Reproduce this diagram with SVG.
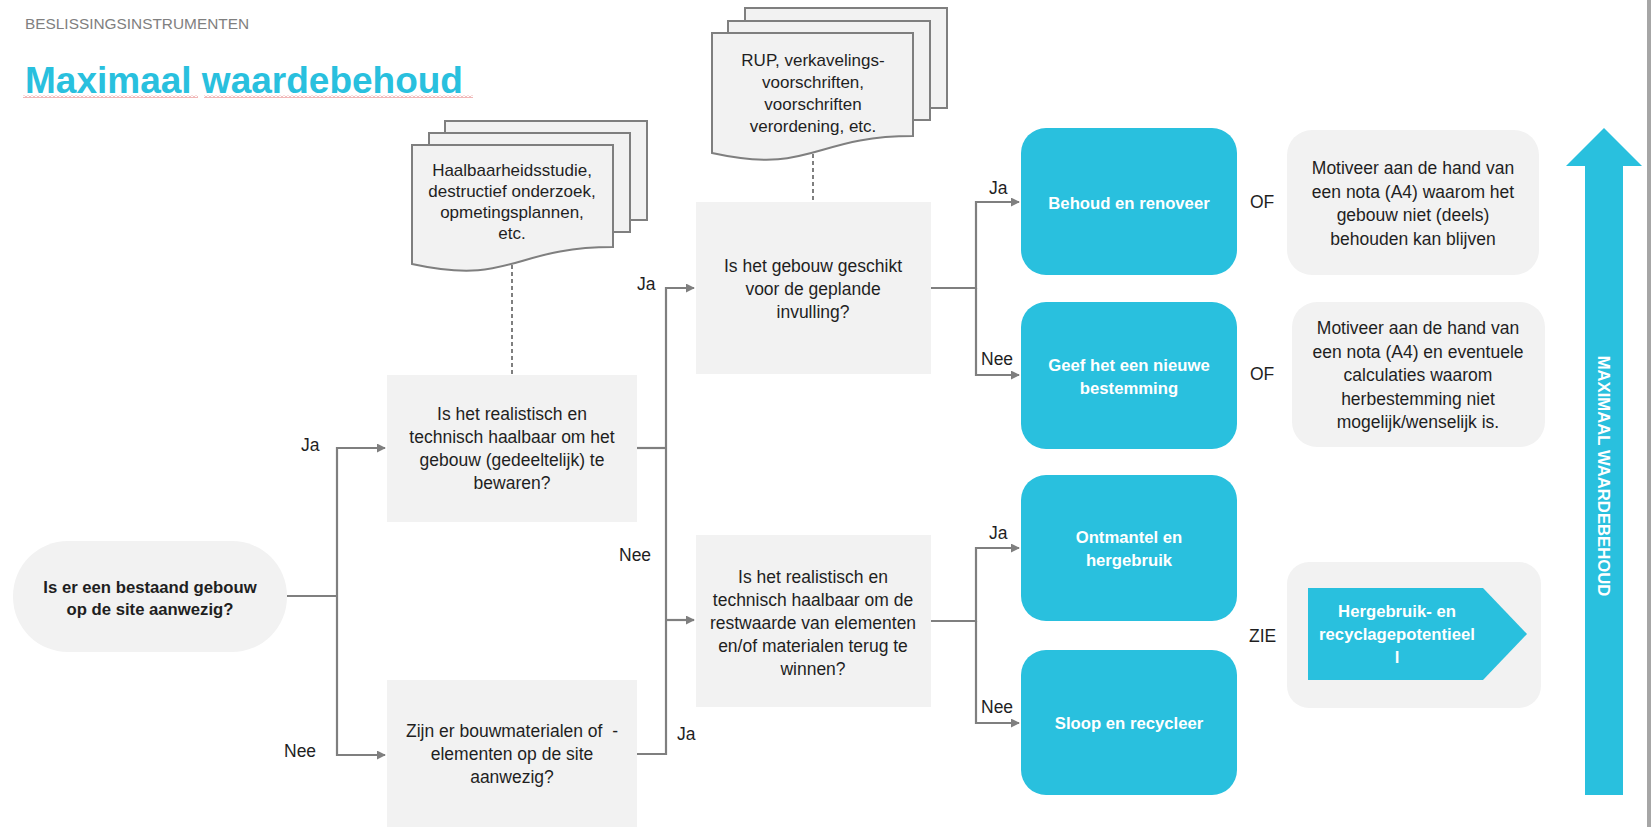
<svg xmlns="http://www.w3.org/2000/svg" width="1651" height="827" viewBox="0 0 1651 827">
<defs>
<style>
text{font-family:"Liberation Sans",Arial,sans-serif;fill:#1f1f1f}
.t{font-size:17.5px;text-anchor:middle}
.d{font-size:17px;text-anchor:middle}
.b{font-size:16.7px;font-weight:bold;text-anchor:middle}
.w{fill:#ffffff}
.lbl{font-size:17.5px}
.box{fill:#f2f2f2}
.blue{fill:#29c0de}
.doc{fill:#f2f2f2;stroke:#7f7f7f;stroke-width:2}
.con{fill:none;stroke:#7f7f7f;stroke-width:2.2}
.dash{fill:none;stroke:#7f7f7f;stroke-width:2;stroke-dasharray:4 3}
</style>
<marker id="ah" viewBox="0 0 10 10" refX="9" refY="5" markerWidth="9" markerHeight="9" markerUnits="userSpaceOnUse" orient="auto">
<path d="M0,0 L10,5 L0,10 z" fill="#7f7f7f"/>
</marker>
<pattern id="sq" x="0" y="0" width="4" height="3" patternUnits="userSpaceOnUse">
<path d="M0,2.5 L2,0.5 L4,2.5" fill="none" stroke="#e06060" stroke-width="0.9"/>
</pattern>
</defs>
<rect x="0" y="0" width="1651" height="827" fill="#ffffff"/>
<rect x="1647" y="0" width="4" height="827" fill="#a6a6a6"/>

<g id="header">
<text x="25" y="29" style="font-size:15.4px;fill:#808080">BESLISSINGSINSTRUMENTEN</text>
<text x="25" y="93" style="font-size:37px;font-weight:bold;fill:#29c0de">Maximaal waardebehoud</text>
<rect x="23" y="95" width="175" height="3" fill="url(#sq)"/>
<rect x="204" y="95" width="269" height="3" fill="url(#sq)"/>
</g>

<g id="connectors">
<path class="con" d="M287,596 H337"/>
<path class="con" d="M337,596 V448 H385" marker-end="url(#ah)"/>
<path class="con" d="M337,596 V755 H385" marker-end="url(#ah)"/>
<path class="con" d="M637,448 H666"/>
<path class="con" d="M637,754 H666 V448"/>
<path class="con" d="M666,448 V288 H694" marker-end="url(#ah)"/>
<path class="con" d="M666,620 H694" marker-end="url(#ah)"/>
<path class="con" d="M931,288 H976 V202 H1019" marker-end="url(#ah)"/>
<path class="con" d="M976,288 V375 H1019" marker-end="url(#ah)"/>
<path class="con" d="M931,621 H976 V548 H1019" marker-end="url(#ah)"/>
<path class="con" d="M976,621 V723 H1019" marker-end="url(#ah)"/>
<path class="dash" d="M512,265 V375"/>
<path class="dash" d="M813,154 V202"/>
<text class="lbl" x="301" y="451">Ja</text>
<text class="lbl" x="284" y="757">Nee</text>
<text class="lbl" x="637" y="290">Ja</text>
<text class="lbl" x="619" y="561">Nee</text>
<text class="lbl" x="677" y="740">Ja</text>
<text class="lbl" x="989" y="194">Ja</text>
<text class="lbl" x="981" y="365">Nee</text>
<text class="lbl" x="989" y="539">Ja</text>
<text class="lbl" x="981" y="713">Nee</text>
<text class="lbl" x="1250" y="208">OF</text>
<text class="lbl" x="1250" y="380">OF</text>
<text class="lbl" x="1249" y="642">ZIE</text>
</g>

<g id="start">
<rect x="13" y="541" width="274" height="111" rx="55" ry="55" class="box"/>
<text class="b" x="150" y="593">Is er een bestaand gebouw</text>
<text class="b" x="150" y="615">op de site aanwezig?</text>
</g>

<g id="q-bewaren">
<rect x="387" y="375" width="250" height="147" class="box"/>
<text class="t" x="512" y="420">Is het realistisch en</text>
<text class="t" x="512" y="443">technisch haalbaar om het</text>
<text class="t" x="512" y="466">gebouw (gedeeltelijk) te</text>
<text class="t" x="512" y="489">bewaren?</text>
</g>

<g id="q-materialen">
<rect x="387" y="680" width="250" height="150" class="box"/>
<text class="t" x="512" y="737" style="white-space:pre">Zijn er bouwmaterialen of  -</text>
<text class="t" x="512" y="760">elementen op de site</text>
<text class="t" x="512" y="783">aanwezig?</text>
</g>

<g id="doc-haalbaarheid">
<rect x="445" y="121" width="202" height="99" class="doc"/>
<rect x="429" y="133" width="201" height="99" class="doc"/>
<path class="doc" d="M412,145 H613 V247 C512.5,247 512.5,286 412,264 Z"/>
<text class="d" x="512" y="176">Haalbaarheidsstudie,</text>
<text class="d" x="512" y="197">destructief onderzoek,</text>
<text class="d" x="512" y="218">opmetingsplannen,</text>
<text class="d" x="512" y="239">etc.</text>
</g>

<g id="doc-rup">
<rect x="745" y="8" width="202" height="100" class="doc"/>
<rect x="728" y="21" width="202" height="99" class="doc"/>
<path class="doc" d="M712,33 H913 V136 C812.5,136 812.5,175 712,153 Z"/>
<text class="d" x="813" y="66">RUP, verkavelings-</text>
<text class="d" x="813" y="88">voorschriften,</text>
<text class="d" x="813" y="110">voorschriften</text>
<text class="d" x="813" y="132">verordening, etc.</text>
</g>

<g id="q-geschikt">
<rect x="696" y="202" width="235" height="172" class="box"/>
<text class="t" x="813" y="272">Is het gebouw geschikt</text>
<text class="t" x="813" y="295">voor de geplande</text>
<text class="t" x="813" y="318">invulling?</text>
</g>

<g id="q-restwaarde">
<rect x="696" y="535" width="235" height="172" class="box"/>
<text class="t" x="813" y="583">Is het realistisch en</text>
<text class="t" x="813" y="606">technisch haalbaar om de</text>
<text class="t" x="813" y="629">restwaarde van elementen</text>
<text class="t" x="813" y="652">en/of materialen terug te</text>
<text class="t" x="813" y="675">winnen?</text>
</g>

<g id="behoud">
<rect x="1021" y="128" width="216" height="147" rx="25" class="blue"/>
<text class="b w" x="1129" y="209">Behoud en renoveer</text>
</g>

<g id="nieuwe-bestemming">
<rect x="1021" y="302" width="216" height="147" rx="25" class="blue"/>
<text class="b w" x="1129" y="371">Geef het een nieuwe</text>
<text class="b w" x="1129" y="394">bestemming</text>
</g>

<g id="ontmantel">
<rect x="1021" y="475" width="216" height="146" rx="25" class="blue"/>
<text class="b w" x="1129" y="543">Ontmantel en</text>
<text class="b w" x="1129" y="566">hergebruik</text>
</g>

<g id="sloop">
<rect x="1021" y="650" width="216" height="145" rx="25" class="blue"/>
<text class="b w" x="1129" y="729">Sloop en recycleer</text>
</g>

<g id="motiveer-1">
<rect x="1287" y="130" width="252" height="145" rx="25" class="box"/>
<text class="t" x="1413" y="174">Motiveer aan de hand van</text>
<text class="t" x="1413" y="197.5">een nota (A4) waarom het</text>
<text class="t" x="1413" y="221">gebouw niet (deels)</text>
<text class="t" x="1413" y="244.5">behouden kan blijven</text>
</g>

<g id="motiveer-2">
<rect x="1292" y="302" width="253" height="145" rx="25" class="box"/>
<text class="t" x="1418" y="334">Motiveer aan de hand van</text>
<text class="t" x="1418" y="357.5">een nota (A4) en eventuele</text>
<text class="t" x="1418" y="381">calculaties waarom</text>
<text class="t" x="1418" y="404.5">herbestemming niet</text>
<text class="t" x="1418" y="428">mogelijk/wenselijk is.</text>
</g>

<g id="zie-potentieel">
<rect x="1287" y="562" width="254" height="146" rx="22" class="box"/>
<polygon points="1308,588 1483,588 1527,634 1483,680 1308,680" class="blue"/>
<text class="b w" x="1397" y="617">Hergebruik- en</text>
<text class="b w" x="1397" y="640">recyclagepotentieel</text>
<text class="b w" x="1397" y="663">l</text>
</g>

<g id="maximaal-arrow">
<polygon points="1604,128 1642,166 1623,166 1623,795 1585,795 1585,166 1566,166" class="blue"/>
<text class="b w" transform="translate(1598,476) rotate(90)" x="0" y="0">MAXIMAAL WAARDEBEHOUD</text>
</g>
</svg>
